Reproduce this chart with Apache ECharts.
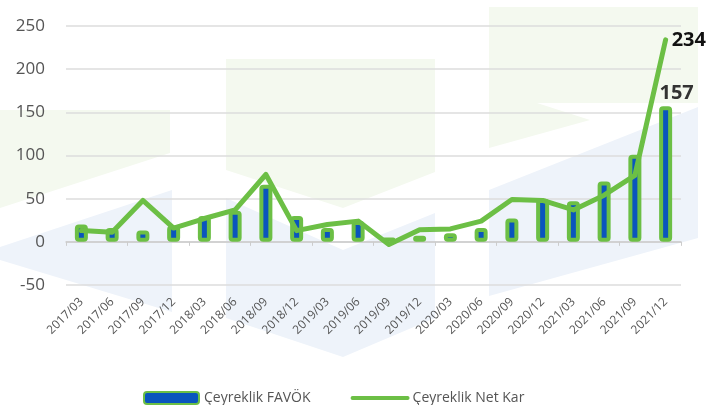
<!DOCTYPE html>
<html>
<head>
<meta charset="utf-8">
<script src="https://cdn.jsdelivr.net/npm/echarts@6/dist/echarts.min.js"></script>
<style>
    html, body { margin: 0; padding: 0; background: #fff; }
    #chart { width: 712px; height: 405px; }
</style>
</head>
<body>
<div id="chart"></div>
<script>
    // quarters
    var quarters = ['2017/03', '2017/06', '2017/09', '2017/12', '2018/03', '2018/06', '2018/09', '2018/12',
        '2019/03', '2019/06', '2019/09', '2019/12', '2020/03', '2020/06', '2020/09', '2020/12',
        '2021/03', '2021/06', '2021/09', '2021/12']
    // Çeyreklik FAVÖK
    var favok = [20, 16, 13, 19, 30, 36, 66, 30, 16, 24, 5, 7, 10, 16, 27, 50, 47, 70, 101, 157]
    // Çeyreklik Net Kar
    var netKar = [13, 11, 48, 16, 27, 37, 78, 13, 20, 24, -3, 14, 15, 24, 49, 48, 37, 54, 77, 234]
    var yTicks = [-50, 0, 50, 100, 150, 200, 250]

    var green = '#6cbf45'
    var blue = '#0a55bd'
    var wmGreen = '#f4f9ef'
    var wmBlue = '#eef3fa'

    var last = favok.length - 1
    var barData = favok.map(function (v, i) {
        if (i !== last) return v
        return {
            value: v,
            label: { show: true, position: 'top', distance: 3, offset: [11, 0], color: '#333', fontSize: 20, fontWeight: 'bold', fontFamily: 'Open Sans' }
        }
    })

    // faint logo shapes behind the chart
    function poly(pts, fill) {
        return { type: 'polygon', z: -10, silent: true, shape: { points: pts }, style: { fill: fill } }
    }
    var watermark = [
        poly([[0, 110], [170, 110], [170, 153], [0, 208]], wmGreen),
        poly([[226, 59], [435, 59], [435, 172], [343, 208], [226, 170]], wmGreen),
        poly([[489, 7], [698, 7], [698, 103], [537, 103], [590, 120], [489, 148]], wmGreen),
        poly([[0, 247], [172, 190], [172, 312], [0, 260]], wmBlue),
        poly([[226, 198], [343, 250], [435, 213], [435, 318], [343, 357], [226, 318]], wmBlue),
        poly([[489, 190], [698, 107], [698, 238], [489, 296]], wmBlue)
    ]

    var chart = echarts.init(document.getElementById('chart'))
    var option = {
        animation: false,
        backgroundColor: '#fff',
        textStyle: { fontFamily: 'Open Sans' },
        graphic: watermark,
        legend: {
            left: 138,
            top: 386,
            itemWidth: 55,
            itemHeight: 12,
            itemGap: 40,
            textStyle: { color: '#555', fontSize: 14, fontFamily: 'Open Sans' },
            data: [
                'Çeyreklik FAVÖK',
                { name: 'Çeyreklik Net Kar', itemStyle: { opacity: 0 }, lineStyle: { width: 4, cap: 'round' } }
            ]
        },
        grid: {
            left: 66,
            right: 31,
            top: 26,
            bottom: 120
        },
        xAxis: [
            {
                type: 'category',
                data: quarters,
                position: 'bottom',
                axisLine: { show: false, onZero: false },
                axisTick: { show: false },
                axisLabel: { rotate: 45, color: '#555', fontSize: 12, margin: 15, interval: 0 }
            },
            {
                type: 'category',
                data: quarters,
                position: 'bottom',
                axisLine: { show: true, onZero: true, lineStyle: { color: '#ccc', width: 1.5 } },
                axisTick: { show: true, length: 4, lineStyle: { color: '#ccc' } },
                axisLabel: { show: false }
            }
        ],
        yAxis: {
            type: 'value',
            min: yTicks[0],
            max: yTicks[yTicks.length - 1],
            interval: 50,
            axisLine: { show: false },
            axisTick: { show: false },
            axisLabel: { color: '#555', fontSize: 17, margin: 21 },
            splitLine: { lineStyle: { color: '#ddd', width: 1.5 } }
        },
        series: [
            {
                name: 'Çeyreklik FAVÖK',
                type: 'bar',
                barWidth: 13,
                itemStyle: { color: blue, borderColor: green, borderWidth: 4, borderRadius: 2 },
                data: barData
            },
            {
                name: 'Çeyreklik Net Kar',
                type: 'line',
                symbol: 'none',
                lineStyle: { color: green, width: 5, join: 'round', cap: 'round' },
                itemStyle: { color: green },
                endLabel: {
                    show: true,
                    distance: 6,
                    color: '#111',
                    fontSize: 20,
                    fontWeight: 'bold',
                    fontFamily: 'Open Sans'
                },
                data: netKar
            }
        ]
    }
    chart.setOption(option, true)
</script>
</body>
</html>
